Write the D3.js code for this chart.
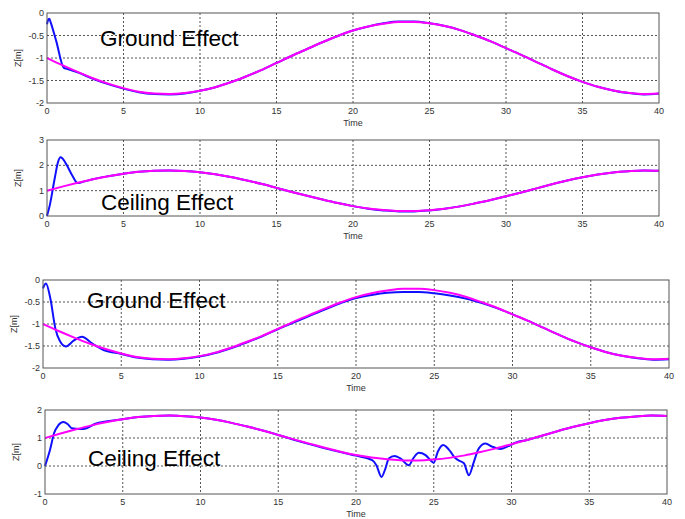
<!DOCTYPE html>
<html>
<head>
<meta charset="utf-8">
<script src="https://cdn.jsdelivr.net/npm/d3@7"></script>
<style>
  body { margin: 0; background: #fff; }
  svg { display: block; font-family: "Liberation Sans", Arial, sans-serif; }
</style>
</head>
<body>
<svg id="chart" width="685" height="519"></svg>
<script>
// reference trajectory, sampled every 1 s
var refTime = [0,1,2,3,4,5,6,7,8,9,10,11,12,13,14,15,16,17,18,19,20,
               21,22,23,24,25,26,27,28,29,30,31,32,33,34,35,36,37,38,39,40];
var groundRef = [-1.00,-1.16,-1.31,-1.45,-1.57,-1.67,-1.75,-1.79,-1.80,-1.78,-1.73,
                 -1.65,-1.54,-1.41,-1.27,-1.11,-0.95,-0.80,-0.65,-0.51,-0.39,
                 -0.30,-0.24,-0.20,-0.20,-0.23,-0.29,-0.38,-0.50,-0.63,-0.78,
                 -0.93,-1.09,-1.25,-1.40,-1.53,-1.64,-1.72,-1.77,-1.80,-1.79];
var ceilingRef = [1.00,1.16,1.31,1.45,1.57,1.67,1.75,1.79,1.80,1.78,1.73,
                  1.65,1.54,1.41,1.27,1.11,0.95,0.80,0.65,0.51,0.39,
                  0.30,0.24,0.20,0.20,0.23,0.29,0.38,0.50,0.63,0.78,
                  0.93,1.09,1.25,1.40,1.53,1.64,1.72,1.77,1.80,1.79];

// measured heights
var ground1Time = [0,0.07,0.15,0.25,0.6,1.1,1.3,2,3,4,5,6,7,8,9,10,11,12,13,14,15,16,17,18,19,20,
                   21,22,23,24,25,26,27,28,29,30,31,32,33,34,35,36,37,38,39,40];
var ground1Z = [-0.25,-0.16,-0.13,-0.22,-0.62,-1.22,-1.24,-1.32,-1.46,-1.58,-1.68,-1.76,-1.80,-1.81,-1.79,-1.73,
                -1.65,-1.54,-1.41,-1.27,-1.11,-0.95,-0.80,-0.65,-0.51,-0.39,
                -0.30,-0.23,-0.19,-0.19,-0.23,-0.29,-0.38,-0.50,-0.63,-0.78,
                -0.93,-1.09,-1.25,-1.40,-1.53,-1.64,-1.72,-1.78,-1.81,-1.79];

var ceiling1Time = [0,0.18,0.5,0.72,0.88,1.0,1.3,1.65,2.0,2.3,3,4,5,6,7,8,9,10,11,12,13,14,15,16,17,18,19,20,
                    21,22,23,24,25,26,27,28,29,30,31,32,33,34,35,36,37,38,39,40];
var ceiling1Z = [0,0.42,1.47,2.13,2.32,2.28,2.00,1.60,1.30,1.34,1.45,1.57,1.67,1.75,1.79,1.80,1.78,1.73,
                 1.65,1.54,1.41,1.27,1.11,0.95,0.80,0.65,0.51,0.39,
                 0.29,0.22,0.18,0.18,0.22,0.29,0.38,0.50,0.63,0.78,
                 0.93,1.09,1.25,1.40,1.53,1.64,1.72,1.77,1.80,1.79];

var ground2Time = [0,0.19,0.47,0.79,1.07,1.47,1.96,2.49,3.13,3.87,5,6,7,8,9,10,11,12,13,14,15,16,17,18,19,20,
                   21,22,23,24,25,26,27,28,29,30,31,32,33,34,35,36,37,38,39,40];
var ground2Z = [-0.19,-0.08,-0.42,-1.10,-1.38,-1.51,-1.38,-1.29,-1.44,-1.59,-1.68,-1.76,-1.80,-1.81,-1.79,-1.74,
                -1.66,-1.55,-1.42,-1.28,-1.12,-0.97,-0.82,-0.67,-0.53,-0.41,
                -0.34,-0.29,-0.27,-0.27,-0.30,-0.35,-0.42,-0.52,-0.64,-0.78,
                -0.93,-1.09,-1.25,-1.40,-1.53,-1.64,-1.72,-1.78,-1.81,-1.80];

var ceiling2Time = [0,0.32,0.58,0.85,1.18,1.45,1.72,2.25,2.68,3.2,4,5,6,7,8,9,10,11,12,13,14,15,16,17,18,19,20,
                    21.04,21.31,21.64,21.89,22.11,22.47,22.86,23.4,23.68,24.04,24.47,24.8,25.0,25.26,25.6,
                    26.08,26.3,26.6,26.94,27.26,27.58,27.9,28.33,28.76,29.3,29.73,30.3,31,32,33,34,35,36,37,38,39,40];
var ceiling2Z = [0,0.57,1.17,1.45,1.57,1.50,1.35,1.32,1.35,1.50,1.60,1.67,1.75,1.79,1.80,1.78,1.73,
                 1.65,1.54,1.41,1.27,1.11,0.94,0.78,0.63,0.50,0.37,
                 0.21,0.03,-0.39,-0.09,0.27,0.36,0.27,0.03,0.27,0.47,0.39,0.20,0.12,0.51,0.75,
                 0.51,0.33,0.20,0.10,-0.33,0.15,0.63,0.80,0.69,0.61,0.69,0.84,0.93,1.09,1.25,1.40,1.53,1.64,1.72,1.77,1.80,1.79];

var xTicks = [0,5,10,15,20,25,30,35,40];
var groundTicks = [-2,-1.5,-1,-0.5,0];
var ceilingTicks1 = [0,1,2,3];
var ceilingTicks2 = [-1,0,1,2];

var svg = d3.select("#chart");

function drawPanel(p) {
    var x = d3.scaleLinear().domain([0, 40]).range([p.left, p.right]);
    var y = d3.scaleLinear().domain(p.yDomain).range([p.bottom, p.top]);
    var g = svg.append("g");

    // grid
    g.selectAll(".vg").data(xTicks.slice(1, -1)).enter().append("line")
        .attr("x1", function(d){ return x(d); }).attr("x2", function(d){ return x(d); })
        .attr("y1", p.top).attr("y2", p.bottom)
        .style("stroke", "#555").style("stroke-width", 1).style("stroke-dasharray", "2,2");
    g.selectAll(".hg").data(p.yTicks.slice(1, -1)).enter().append("line")
        .attr("x1", p.left).attr("x2", p.right)
        .attr("y1", function(d){ return y(d); }).attr("y2", function(d){ return y(d); })
        .style("stroke", "#555").style("stroke-width", 1).style("stroke-dasharray", "2,2");

    // lines
    var refLine = d3.line()
        .x(function(d, i){ return x(refTime[i]); })
        .y(function(d){ return y(d); })
        .curve(d3.curveMonotoneX);
    var measLine = d3.line()
        .x(function(d, i){ return x(p.time[i]); })
        .y(function(d){ return y(d); })
        .curve(d3.curveMonotoneX);

    g.append("path").attr("d", measLine(p.z))
        .style("fill", "none").style("stroke", "#1010ff").style("stroke-width", 2);
    g.append("path").attr("d", refLine(p.ref))
        .style("fill", "none").style("stroke", "#ff00ff").style("stroke-width", 2);

    // frame
    g.append("rect")
        .attr("x", p.left).attr("y", p.top)
        .attr("width", p.right - p.left).attr("height", p.bottom - p.top)
        .style("fill", "none").style("stroke", "#555").style("stroke-width", 1);

    // tick labels
    g.selectAll(".xt").data(xTicks).enter().append("text")
        .attr("x", function(d){ return x(d); })
        .attr("y", p.bottom + 11)
        .attr("text-anchor", "middle")
        .style("font-size", "9px").style("fill", "#333")
        .text(function(d){ return d; });
    g.selectAll(".yt").data(p.yTicks).enter().append("text")
        .attr("x", p.left - 3)
        .attr("y", function(d){ return y(d) + 3; })
        .attr("text-anchor", "end")
        .style("font-size", "9px").style("fill", "#333")
        .text(function(d){ return d; });

    g.append("text")
        .attr("x", (p.left + p.right) / 2)
        .attr("y", p.bottom + 23)
        .attr("text-anchor", "middle")
        .style("font-size", "9px").style("fill", "#333")
        .text("Time");
    g.append("text")
        .attr("transform", "translate(" + (p.left - 26) + "," + ((p.top + p.bottom) / 2) + ") rotate(-90)")
        .attr("text-anchor", "middle")
        .style("font-size", "9px").style("fill", "#333")
        .text("Z[m]");

    // panel title
    g.append("text")
        .attr("x", p.labelX).attr("y", p.labelY)
        .style("font-size", "22.5px").style("fill", "#000")
        .text(p.label);
}

drawPanel({left: 47, right: 659, top: 13, bottom: 103, yDomain: [-2, 0], yTicks: groundTicks,
           time: ground1Time, z: ground1Z, ref: groundRef, label: "Ground Effect", labelX: 100, labelY: 46});
drawPanel({left: 47, right: 659, top: 140, bottom: 216, yDomain: [0, 3], yTicks: ceilingTicks1,
           time: ceiling1Time, z: ceiling1Z, ref: ceilingRef, label: "Ceiling Effect", labelX: 101, labelY: 210});
drawPanel({left: 43, right: 669, top: 280, bottom: 368, yDomain: [-2, 0], yTicks: groundTicks,
           time: ground2Time, z: ground2Z, ref: groundRef, label: "Ground Effect", labelX: 87, labelY: 308});
drawPanel({left: 45, right: 667, top: 410, bottom: 494, yDomain: [-1, 2], yTicks: ceilingTicks2,
           time: ceiling2Time, z: ceiling2Z, ref: ceilingRef, label: "Ceiling Effect", labelX: 88, labelY: 466});
</script>
</body>
</html>
